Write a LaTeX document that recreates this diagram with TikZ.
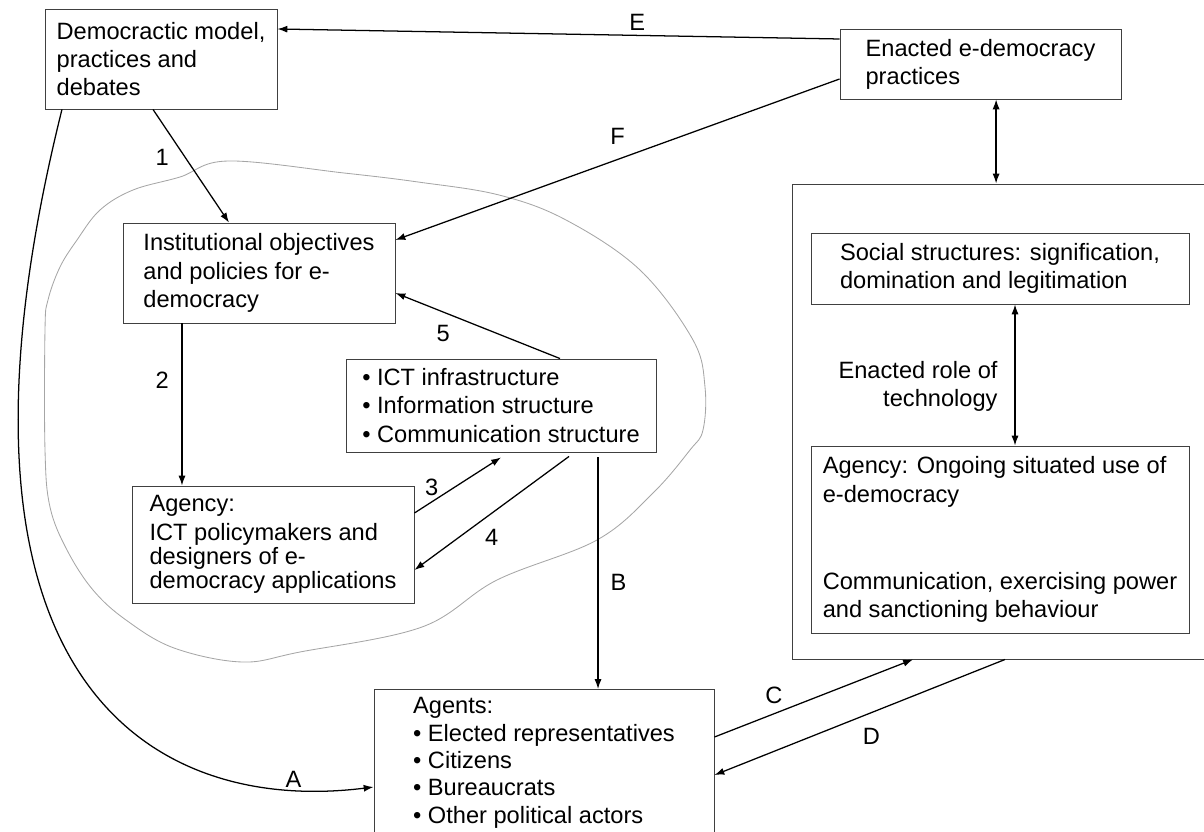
\documentclass[tikz,border=0pt]{standalone}
\usepackage{fontspec}
\setmainfont{Liberation Sans}
\usepackage{xcolor}
\usetikzlibrary{arrows.meta, positioning, calc}

\begin{document}
\begin{tikzpicture}[x=0.025cm, y=-0.025cm,
    box/.style={draw=black!75, line width=0.6pt, rectangle, align=left, inner sep=0pt,
        font=\fontsize{16.8}{20}\selectfont},
    arr/.style={-{Latex[length=7pt, width=5pt]}, line width=0.9pt},
    dbl/.style={{Latex[length=7pt, width=5pt]}-{Latex[length=7pt, width=5pt]}, line width=0.9pt},
    lbl/.style={font=\fontsize{16.8}{20}\selectfont, inner sep=1pt}]
    \useasboundingbox (0,0) rectangle (1204,832);

    \draw[black!35, line width=0.6pt] plot[smooth cycle, tension=0.6] coordinates {
        (228,161) (344,173) (418,182) (499,195) (566,220) (640,270) (693,340)
        (705,387) (703,430) (690,450) (653,493) (597,540) (497,580) (422,627)
        (300,652) (242,662) (174,648) (126,620) (93,590) (67,550) (50,507)
        (45,450) (45,330) (48,300) (60,267) (77,240) (100,210) (133,190) (180,177)};

    \node[box, minimum width=5.8cm, minimum height=2.5cm] (demo) at (161,59)
        {Democractic model,\\practices and\\debates};
    \node[box, minimum width=7.025cm, minimum height=1.75cm] (enacted) at (980.5,64)
        {Enacted e-democracy\\practices};
    \node[box, minimum width=6.8cm, minimum height=2.5cm] (inst) at (259,273)
        {Institutional objectives\\and policies for e-\\democracy};
    \node[box, minimum width=7.75cm, minimum height=2.325cm] (ict) at (501,405.5)
        {• ICT infrastructure\\• Information structure\\• Communication structure};
    \node[box, minimum width=7.05cm, minimum height=2.925cm,
        font=\fontsize{16.8}{17}\selectfont] (agICT) at (273,544.5)
        {Agency:\\[3.6pt]ICT policymakers and\\designers of e-\\democracy applications};
    \node[box, anchor=north, minimum width=8.5cm, inner ysep=0.2cm,
        font=\fontsize{16.8}{19.5}\selectfont] (agents) at (544,689)
        {Agents:\\• Elected representatives\\• Citizens\\• Bureaucrats\\• Other political actors};

    \node[draw=black!75, line width=0.6pt, minimum width=10.55cm, minimum height=11.875cm,
        inner sep=0pt] (practice) at (1003,421.5) {};
    \node[box, minimum width=9.45cm, minimum height=1.775cm] (social) at (1000,268.5)
        {Social structures: signification,\\domination and legitimation};
    \node[box, minimum width=9.45cm, minimum height=4.675cm] (agUse) at (1000,539.5)
        {Agency: Ongoing situated use of\\e-democracy\\[42pt]Communication, exercising power\\and sanctioning behaviour};

    \draw[arr] ([yshift=0.625cm]enacted.west) -- ([yshift=0.75cm]demo.east)
        node[lbl, pos=0.36, above=2pt] {E};
    \draw[arr] ([yshift=-0.375cm]enacted.west) -- ([yshift=0.825cm]inst.east)
        node[lbl, pos=0.5, above=9pt] {F};
    \draw[arr] ([xshift=-0.2cm]demo.south) -- ([xshift=-0.75cm]inst.north)
        node[lbl, pos=0.42, left=10pt] {1};
    \draw[arr] ([xshift=-1.925cm]inst.south) coordinate (i2) -- (i2 |- agICT.north)
        node[lbl, pos=0.35, left=8pt] {2};
    \draw[arr] ([yshift=0.7875cm]agICT.east) -- ([yshift=-0.125cm]ict.south)
        node[lbl, pos=0.2, above=3pt] {3};
    \draw[arr] ([xshift=1.7cm, yshift=-0.1cm]ict.south) -- ([yshift=-0.6375cm]agICT.east)
        node[lbl, pos=0.5, below=10pt] {4};
    \draw[arr] ([xshift=1.475cm]ict.north) -- ([yshift=-0.5cm]inst.east)
        node[lbl, pos=0.71, below=8pt] {5};
    \draw[arr] ([xshift=2.425cm, yshift=-0.125cm]ict.south) coordinate (b1) -- (b1 |- agents.north)
        node[lbl, pos=0.54, right=7.5pt] {B};
    \draw[arr] ([yshift=-1.2cm]agents.north east) -- ([xshift=-2.25cm]practice.south)
        node[lbl, pos=0.3, above=6pt] {C};
    \draw[arr] ([xshift=0.05cm]practice.south) -- ([yshift=-2.15cm]agents.north east)
        node[lbl, pos=0.46, below=10pt] {D};
    \draw[arr] ([xshift=-2.475cm]demo.south) .. controls (-80,680) and (150,815) ..
        ([yshift=-2.45cm]agents.north west) node[lbl, pos=0.88, above=0pt] {A};

    \draw[dbl] ([xshift=0.39cm]enacted.south) coordinate (e1) -- (e1 |- practice.north);
    \draw[dbl] ([xshift=0.375cm]social.south) coordinate (s1) -- (s1 |- agUse.north)
        node[lbl, pos=0.58, left=11pt, align=right] {Enacted role of\\technology};
\end{tikzpicture}
\end{document}
